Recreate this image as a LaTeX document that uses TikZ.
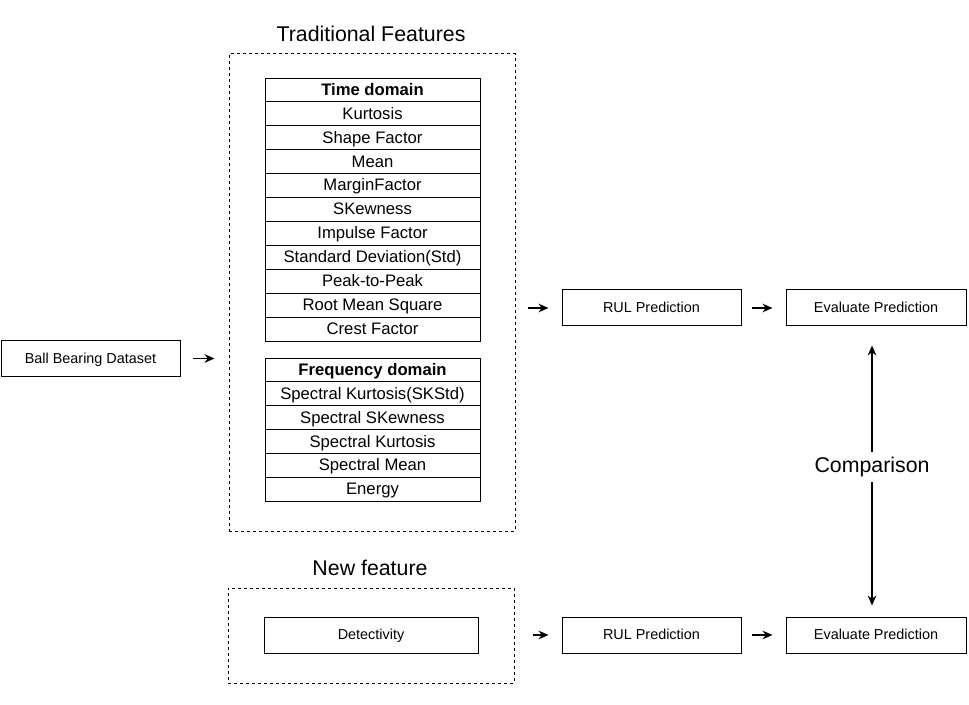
\documentclass[tikz,border=0pt]{standalone}
\usepackage{fontspec}
\setmainfont{Liberation Sans}
\usetikzlibrary{positioning,arrows.meta}
\begin{document}
\begin{tikzpicture}[x=0.75pt,y=-0.75pt,line width=0.75pt,
		box/.style={draw,minimum width=134.25pt,minimum height=27pt,inner sep=0pt,text height=9.3pt,text depth=2pt,font=\fontsize{10.8}{13}\selectfont},
		row/.style={draw,minimum width=161.25pt,minimum height=17.93pt,inner sep=0pt,outer sep=0pt,text height=10pt,text depth=2pt,font=\fontsize{12.5}{15}\selectfont},
		group/.style={draw,dash pattern=on 2.25pt off 2.25pt,inner sep=0pt},
		title/.style={font=\fontsize{16}{19}\selectfont},
		arr/.style={-{Stealth[length=7.5pt,width=6.5pt]},line width=0.9pt}]
		\useasboundingbox (0,0) rectangle (969,705);
		% input
		\node [box] (ball) at (90.5,358.5) {Ball Bearing Dataset};
		% traditional features
		\node [group,minimum width=214.5pt,minimum height=357.75pt] (trad) at (372,292.5) {};
		\node [title] (tradtitle) at (371,34) {Traditional Features};
		\node [row,font=\fontsize{12.5}{15}\selectfont\bfseries] (time) at (372.5,90) {Time domain};
		\node [row,below=0pt of time] (t1) {Kurtosis};
		\node [row,below=0pt of t1] (t2) {Shape Factor};
		\node [row,below=0pt of t2] (t3) {Mean};
		\node [row,below=0pt of t3] (t4) {MarginFactor};
		\node [row,below=0pt of t4] (t5) {SKewness};
		\node [row,below=0pt of t5] (t6) {Impulse Factor};
		\node [row,below=0pt of t6] (t7) {Standard Deviation(Std)};
		\node [row,below=0pt of t7] (t8) {Peak-to-Peak};
		\node [row,below=0pt of t8] (t9) {Root Mean Square};
		\node [row,below=0pt of t9] (t10) {Crest Factor};
		\node [row,font=\fontsize{12.5}{15}\selectfont\bfseries] (freq) at (372.5,370) {Frequency domain};
		\node [row,below=0pt of freq] (f1) {Spectral Kurtosis(SKStd)};
		\node [row,below=0pt of f1] (f2) {Spectral SKewness};
		\node [row,below=0pt of f2] (f3) {Spectral Kurtosis};
		\node [row,below=0pt of f3] (f4) {Spectral Mean};
		\node [row,below=0pt of f4] (f5) {Energy};
		% new feature
		\node [group,minimum width=214.5pt,minimum height=71.25pt] (new) at (371,635.5) {};
		\node [title] (newtitle) at (370,568) {New feature};
		\node [box,minimum width=160.5pt] (det) at (371,635) {Detectivity};
		% predictions
		\node [box] (rula) at (651.5,308) {RUL Prediction};
		\node [box,minimum width=135pt] (evala) at (876,308) {Evaluate Prediction};
		\node [box] (rulb) at (651.5,635) {RUL Prediction};
		\node [box,minimum width=135pt] (evalb) at (876,635) {Evaluate Prediction};
		\node [title] (cmp) at (872,467) {Comparison};
		% connectors
		\draw [arr,shorten <=9pt,shorten >=10.5pt] (ball) -- (ball -| trad.west);
		\draw [arr,shorten <=9pt,shorten >=9.75pt] (trad.east |- rula) -- (rula);
		\draw [arr,shorten <=7.5pt,shorten >=9.75pt] (rula) -- (evala);
		\draw [arr,shorten <=13.5pt,shorten >=9.75pt] (new.east |- rulb) -- (rulb);
		\draw [arr,shorten <=7.5pt,shorten >=9.75pt] (rulb) -- (evalb);
		\draw [arr,shorten >=14.25pt] (cmp.north) -- (cmp.north |- evala.south);
		\draw [arr,shorten >=8.25pt] (cmp.south) -- (cmp.south |- evalb.north);
\end{tikzpicture}
\end{document}
